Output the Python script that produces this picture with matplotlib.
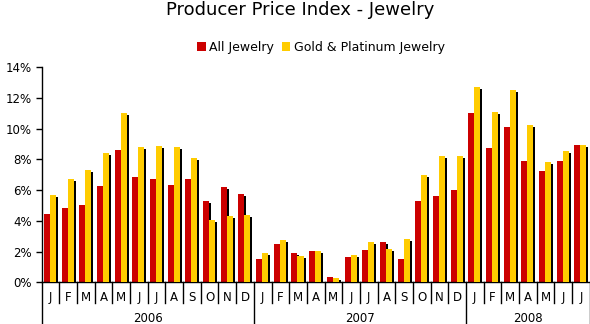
import matplotlib
matplotlib.use("Agg")
import matplotlib.pyplot as plt
import matplotlib.transforms as mtransforms
from matplotlib.patches import Patch
import numpy as np

months = ["J", "F", "M", "A", "M", "J", "J", "A", "S", "O", "N", "D",
          "J", "F", "M", "A", "M", "J", "J", "A", "S", "O", "N", "D",
          "J", "F", "M", "A", "M", "J", "J"]
years = ["2006", "2007", "2008"]
year_starts = [0, 12, 24, 31]

all_jewelry = [4.45, 4.84, 5.04, 6.27, 8.62, 6.86, 6.73, 6.34, 6.73, 5.30, 6.21, 5.75,
               1.52, 2.50, 1.91, 2.04, 0.35, 1.65, 2.11, 2.63, 1.52, 5.30, 5.62, 6.01,
               11.03, 8.75, 10.12, 7.90, 7.25, 7.90, 8.94]
gold_platinum = [5.69, 6.73, 7.31, 8.42, 11.03, 8.81, 8.88, 8.81, 8.10, 4.06, 4.32, 4.38,
                 1.91, 2.76, 1.71, 2.04, 0.28, 1.78, 2.63, 2.17, 2.82, 6.99, 8.23, 8.23,
                 12.72, 11.09, 12.52, 10.25, 7.84, 8.55, 8.94]

RED = "#CC0000"
YEL = "#FFCC00"
FONT = "DejaVu Sans"

fig = plt.figure(figsize=(5.9, 3.24), dpi=100)
ax = fig.add_axes([41.7 / 590, 41.7 / 324, 548 / 590, 215 / 324])

n = len(months)
x = np.arange(n)
w = 0.34
red_x = x + 0.13 + w / 2
yel_x = x + 0.47 + w / 2

# shadow offsets: 2px right, 2px down
dx = 2.0 / (548 / n)
dy = 2.0 / (215 / 14)

ax.bar(red_x + dx, np.array(all_jewelry) - dy, width=w, color="black", zorder=1, linewidth=0)
ax.bar(yel_x + dx, np.array(gold_platinum) - dy, width=w, color="black", zorder=1, linewidth=0)
ax.bar(red_x, all_jewelry, width=w, color=RED, zorder=2, linewidth=0)
ax.bar(yel_x, gold_platinum, width=w, color=YEL, zorder=3, linewidth=0)

ax.set_xlim(0, n)
ax.set_ylim(0, 14)
ax.set_yticks(np.arange(0, 15, 2))
ax.set_yticklabels([f"{v}%" for v in range(0, 15, 2)], fontsize=8.5, family=FONT)
ax.tick_params(axis="y", length=4, width=1, color="black", pad=3)
ax.set_xticks([])
for s in ["top", "right"]:
    ax.spines[s].set_visible(False)
for s in ["left", "bottom"]:
    ax.spines[s].set_color("black")
    ax.spines[s].set_linewidth(1)

trans = mtransforms.blended_transform_factory(ax.transData, ax.transAxes)
ah = 215.0
month_low = -21 / ah
year_low = -43 / ah
for i in range(n + 1):
    if i in year_starts:
        ax.plot([i, i], [0, year_low], color="black", lw=1, transform=trans, clip_on=False)
    else:
        ax.plot([i, i], [0, month_low], color="black", lw=1, transform=trans, clip_on=False)
for i, m in enumerate(months):
    ax.text(i + 0.5, -15 / ah, m, transform=trans, ha="center", va="center",
            fontsize=8.5, family=FONT)
for k, yr in enumerate(years):
    cx = (year_starts[k] + year_starts[k + 1]) / 2
    ax.text(cx, -36 / ah, yr, transform=trans, ha="center", va="center",
            fontsize=8.5, family=FONT)

fig.text(0.508, 1 - 10 / 324, "Producer Price Index - Jewelry", ha="center", va="center",
         fontsize=13, family=FONT)

handles = [Patch(facecolor=RED, edgecolor="none"), Patch(facecolor=YEL, edgecolor="none")]
fig.legend(handles, ["All Jewelry", "Gold & Platinum Jewelry"], loc="center",
           bbox_to_anchor=(321 / 590, 1 - 47 / 324), ncol=2, frameon=False,
           handlelength=0.7, handleheight=0.7, handletextpad=0.3, columnspacing=0.6,
           prop={"family": FONT, "size": 9})

fig.savefig("out.png", dpi=100)
